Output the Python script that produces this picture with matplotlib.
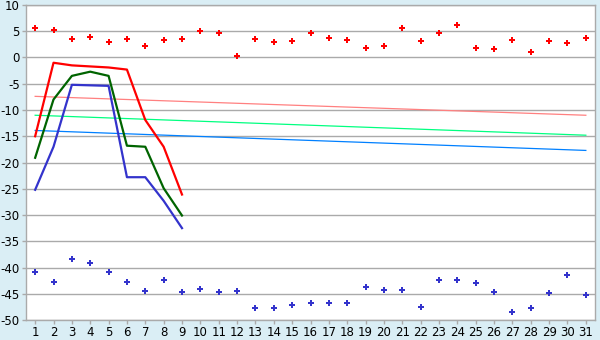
import matplotlib
matplotlib.use("Agg")
import matplotlib.pyplot as plt

plt.rcParams["axes.unicode_minus"] = False

# Day index along the x axis
days = list(range(1, 32))

# Scattered daily points (upper red, lower blue)
red_points = [5.6, 5.3, 3.6, 3.9, 2.9, 3.5, 2.1, 3.3, 3.5, 5.0,
              4.6, 0.2, 3.5, 2.9, 3.1, 4.6, 3.8, 3.3, 1.8, 2.1,
              5.6, 3.1, 4.6, 6.1, 1.8, 1.6, 3.3, 1.0, 3.1, 2.7, 3.8]
blue_points = [-40.9, -42.8, -38.3, -39.2, -40.9, -42.8, -44.4, -42.4, -44.7, -44.0,
               -44.7, -44.5, -47.8, -47.8, -47.2, -46.8, -46.8, -46.8, -43.8, -44.2,
               -44.2, -47.6, -42.3, -42.4, -43.0, -44.7, -48.4, -47.8, -44.9, -41.5, -45.3]

# First nine days: three line series
line_days = list(range(1, 10))
red_line = [-15.0, -1.0, -1.5, -1.7, -1.9, -2.3, -11.9, -17.0, -26.1]
green_line = [-19.1, -8.0, -3.5, -2.7, -3.5, -16.8, -17.0, -24.9, -30.1]
blue_line = [-25.2, -17.0, -5.2, -5.3, -5.4, -22.8, -22.8, -27.3, -32.5]

# Trend lines (start / end values)
trend_days = [1, 31]
trend_red = [-7.4, -11.0]
trend_green = [-11.0, -14.8]
trend_blue = [-13.9, -17.7]

fig = plt.figure(figsize=(6, 3.4), dpi=100, facecolor="#DAEEF5")
ax = fig.add_axes([0.0433, 0.0588, 0.9484, 0.9265])
ax.set_facecolor("white")

ax.plot(trend_days, trend_red, color="#FF8080", lw=0.9, zorder=2)
ax.plot(trend_days, trend_green, color="#00FF80", lw=0.9, zorder=2)
ax.plot(trend_days, trend_blue, color="#0080FF", lw=0.9, zorder=2)

ax.plot(line_days, red_line, color="#FF0000", lw=1.6, zorder=3)
ax.plot(line_days, green_line, color="#006400", lw=1.6, zorder=3)
ax.plot(line_days, blue_line, color="#3333CC", lw=1.6, zorder=3)

ax.plot(days, red_points, ls="none", marker="P", ms=5, color="#FF0000",
        markeredgewidth=0, zorder=4)
ax.plot(days, blue_points, ls="none", marker="P", ms=5, color="#3333CC",
        markeredgewidth=0, zorder=4)

ax.set_xlim(0.5, 31.5)
ax.set_ylim(-50, 10)
ax.set_xticks(days)
ax.set_yticks(range(-50, 11, 5))
ax.grid(axis="y", color="#AAAAAA", lw=1)
ax.set_axisbelow(True)
for sp in ax.spines.values():
    sp.set_color("#AAAAAA")
    sp.set_linewidth(1)
ax.tick_params(colors="#AAAAAA", labelcolor="black", labelsize=8.5,
               length=3, width=1, pad=1.5)

fig.savefig("out.png", dpi=100, facecolor=fig.get_facecolor())
